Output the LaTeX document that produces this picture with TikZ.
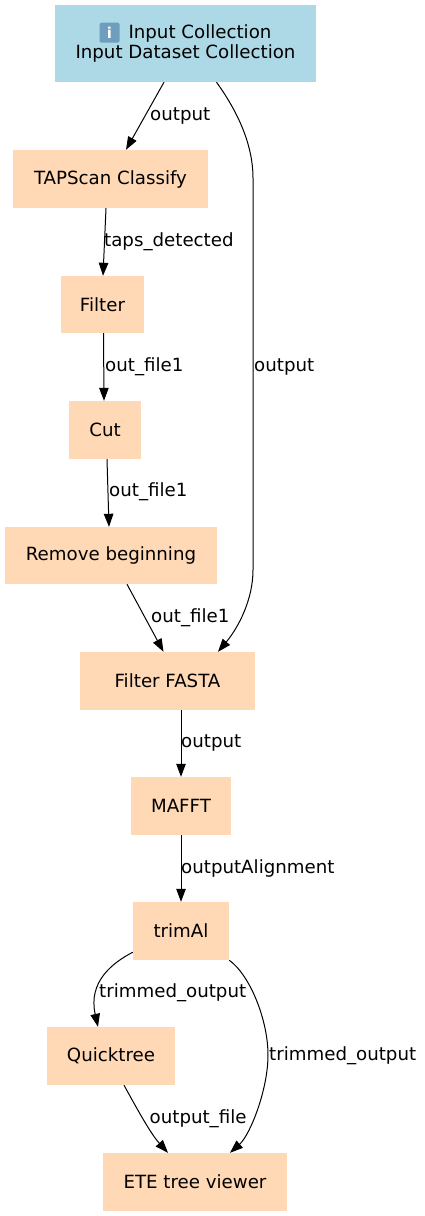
\documentclass[tikz,border=0pt]{standalone}
\usepackage{fontspec}
\setmainfont{DejaVu Sans}
\usetikzlibrary{arrows.meta}
\definecolor{peach}{HTML}{FFD8B5}
\definecolor{inblue}{HTML}{ADD8E6}
\definecolor{keycap}{HTML}{6F9DBD}
\tikzset{
  x=1pt,y=-1pt,
  box/.style={fill=#1,draw=none,inner sep=0pt,align=center,font=\fontsize{18.2pt}{20pt}\selectfont},
  edge/.style={draw=black,line width=1pt,-{Triangle[length=13pt,width=9.5pt]}},
  lab/.style={anchor=west,inner sep=0pt,font=\fontsize{18.2pt}{20pt}\selectfont},
}
\newcommand{\mkbox}[6]{\node[box=#6,minimum width=#3pt-#1pt,minimum height=#4pt-#2pt] (#5) at ({(#1+#3)/2},{(#2+#4)/2})}
\begin{document}
\begin{tikzpicture}
\useasboundingbox (0,0) rectangle (424,1216);
\fill[white] (0,0) rectangle (424,1216);
\mkbox{55}{5}{316}{82}{input}{inblue} {\hspace*{29pt}Input Collection\\Input Dataset Collection};
\node[fill=keycap,rounded corners=1.5pt,minimum size=20pt,inner sep=0pt,text=white,font=\bfseries\fontsize{15pt}{15pt}\selectfont] (infoicon) at (109.5,32.5) {i};
\mkbox{13}{150}{208}{208}{tap}{peach} {TAPScan Classify};
\mkbox{61}{276}{144}{333}{filter}{peach} {Filter};
\mkbox{69}{401}{141}{459}{cut}{peach} {Cut};
\mkbox{5}{527}{217}{584}{remove}{peach} {Remove beginning};
\mkbox{80}{652}{255}{710}{fasta}{peach} {Filter FASTA};
\mkbox{131}{777}{231}{835}{mafft}{peach} {MAFFT};
\mkbox{133}{902}{229}{960}{trimal}{peach} {trimAl};
\mkbox{47}{1027}{175}{1085}{qtree}{peach} {Quicktree};
\mkbox{103}{1153}{287}{1211}{ete}{peach} {ETE tree viewer};

\draw[edge] ([xshift=-21.5pt]input.south) -- ([xshift=15.5pt]tap.north);
\node[lab] (l1) at (150,116) {output};
\draw[edge] ([xshift=31pt]input.south) .. controls (238,112) and (253,145) .. (253,178) -- (253,570) .. controls (253,600) and (238,628) .. ([xshift=50.5pt]fasta.north);
\node[lab] (l2) at (254,367) {output};
\draw[edge] ([xshift=-4.5pt]tap.south) -- ([xshift=0.5pt]filter.north);
\node[lab] (l3) at (104,242) {taps\_detected};
\draw[edge] ([xshift=1pt]filter.south) -- ([xshift=-1pt]cut.north);
\node[lab] (l4) at (105,367) {out\_file1};
\draw[edge] ([xshift=2pt]cut.south) -- ([xshift=-2pt]remove.north);
\node[lab] (l5) at (109,492) {out\_file1};
\draw[edge] ([xshift=16pt]remove.south) -- ([xshift=-4pt]fasta.north);
\node[lab] (l6) at (151,618) {out\_file1};
\draw[edge] ([xshift=13.5pt]fasta.south) -- (mafft.north);
\node[lab] (l7) at (181,743) {output};
\draw[edge] (mafft.south) -- (trimal.north);
\node[lab] (l8) at (181,868) {outputAlignment};
\draw[edge] ([yshift=8pt]trimal.south west) .. controls (112,963) and (88,982) .. ([xshift=-13pt]qtree.north);
\node[lab] (l9) at (99,993) {trimmed\_output};
\draw[edge] (trimal.south east) .. controls (250,975) and (268,1020) .. (268,1055) .. controls (268,1090) and (250,1135) .. ([xshift=35pt]ete.north);
\node[lab] (l10) at (269,1056) {trimmed\_output};
\draw[edge] ([xshift=13pt]qtree.south) .. controls (135,1105) and (150,1133) .. ([xshift=-27pt]ete.north);
\node[lab] (l11) at (149.5,1119) {output\_file};
\end{tikzpicture}
\end{document}
